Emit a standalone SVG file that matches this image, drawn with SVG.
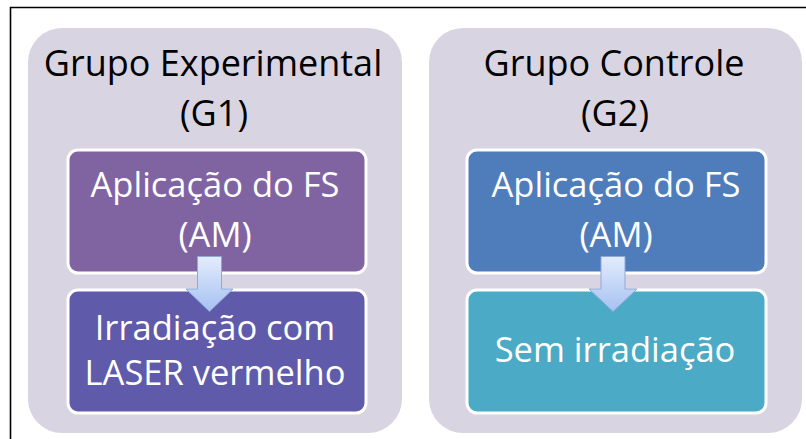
<svg xmlns="http://www.w3.org/2000/svg" width="806" height="439" viewBox="0 0 806 439">
<defs>
<linearGradient id="arrowGrad" x1="0" y1="0" x2="0" y2="1">
<stop offset="0" stop-color="#E3ECFC"/>
<stop offset="1" stop-color="#A6C1F2"/>
</linearGradient>
<style>
.panel{fill:#D9D4E1;}
.box{stroke:#FFFFFF;stroke-width:3;}
.title{font-family:"Open Sans","Liberation Sans",sans-serif;font-size:36px;fill:#000000;text-anchor:middle;}
.label{font-family:"Open Sans","Liberation Sans",sans-serif;font-size:34.5px;fill:#FFFFFF;text-anchor:middle;}
.arrow{fill:url(#arrowGrad);stroke:#8FA9D6;stroke-width:1;}
</style>
</defs>
<rect x="0" y="0" width="806" height="439" fill="#FFFFFF"/>
<path d="M10.5 439 V7.5 H806" fill="none" stroke="#000000" stroke-width="1.6"/>

<g id="g1">
<rect class="panel" x="28" y="28" width="374" height="405" rx="34"/>
<text class="title" x="213" y="76">Grupo Experimental</text>
<text class="title" x="214" y="126">(G1)</text>
</g>
<g id="g1-aplicacao">
<rect class="box" x="68" y="150" width="298" height="123" rx="10" fill="#8064A2"/>
<text class="label" x="215" y="197">Aplicação do FS</text>
<text class="label" x="215" y="247">(AM)</text>
</g>
<g id="g1-irradiacao">
<rect class="box" x="68" y="290" width="298" height="123" rx="10" fill="#5F5AAA"/>
<text class="label" x="215" y="340">Irradiação com</text>
<text class="label" x="215" y="385">LASER vermelho</text>
</g>

<g id="g2">
<rect class="panel" x="429" y="28" width="373" height="405" rx="34"/>
<text class="title" x="614" y="76">Grupo Controle</text>
<text class="title" x="615" y="126">(G2)</text>
</g>
<g id="g2-aplicacao">
<rect class="box" x="467" y="150" width="299" height="123" rx="10" fill="#4F7DBC"/>
<text class="label" x="616" y="197">Aplicação do FS</text>
<text class="label" x="616" y="247">(AM)</text>
</g>
<g id="g2-sem">
<rect class="box" x="467" y="290" width="299" height="123" rx="10" fill="#4BABC6"/>
<text class="label" x="615" y="362">Sem irradiação</text>
</g>

<g id="connectors">
<path class="arrow" d="M197.5 256.5 H221.5 V289 H233 L209.5 311.5 L186 289 H197.5 Z"/>
<path class="arrow" d="M601 256.5 H625 V289 H637 L613 311.5 L589 289 H601 Z"/>
</g>
</svg>
